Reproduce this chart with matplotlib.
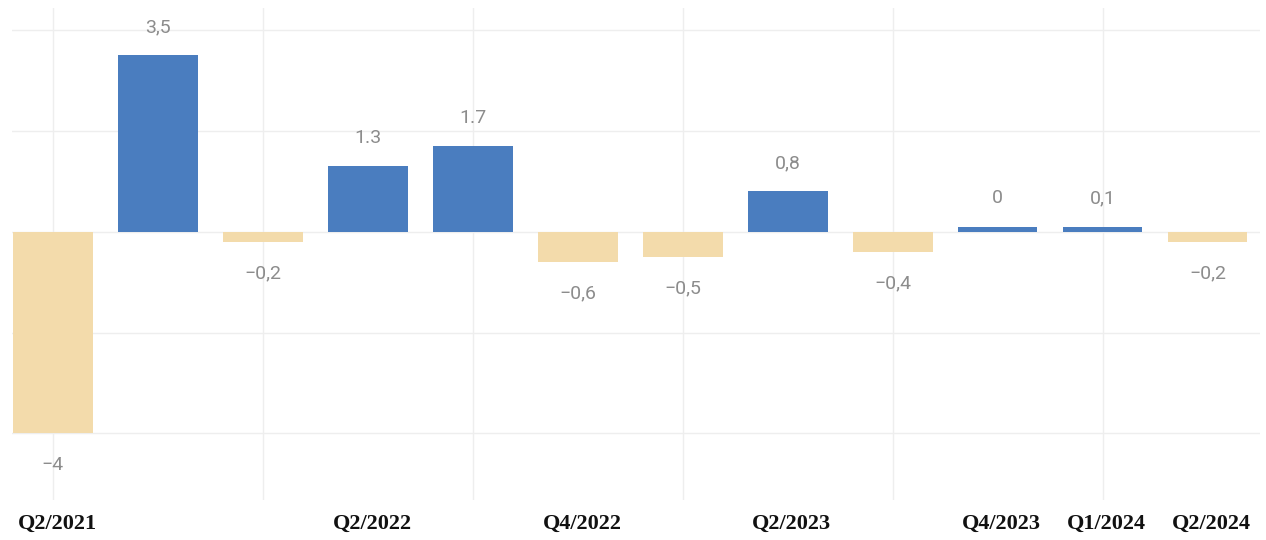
import matplotlib
matplotlib.use("Agg")
import matplotlib.pyplot as plt
from matplotlib import font_manager

# 12 quarters, one bar each
quarters = ["Q2/2021", "Q3/2021", "Q4/2021", "Q2/2022", "Q3/2022", "Q4/2022",
            "Q1/2023", "Q2/2023", "Q3/2023", "Q4/2023", "Q1/2024", "Q2/2024"]
values = [-4, 3.5, -0.2, 1.3, 1.7, -0.6, -0.5, 0.8, -0.4, 0, 0.1, -0.2]
value_labels = ["\u22124", "3,5", "\u22120,2", "1.3", "1.7", "\u22120,6", "\u22120,5",
                "0,8", "\u22120,4", "0", "0,1", "\u22120,2"]
shown_ticks = ["Q2/2021", "", "", "Q2/2022", "", "Q4/2022", "", "Q2/2023", "",
               "Q4/2023", "Q1/2024", "Q2/2024"]

BLUE = "#4a7dbf"
BEIGE = "#f3dbab"

avail = {f.name for f in font_manager.fontManager.ttflist}
label_font = "Liberation Sans Narrow" if "Liberation Sans Narrow" in avail else "Roboto"

fig = plt.figure(figsize=(12.66, 5.4), dpi=100)
ax = fig.add_axes([12 / 1266, 40 / 540, (1260 - 12) / 1266, 492 / 540])

x = list(range(len(values)))
# zero-valued quarters are drawn as a thin stub, as in the reference
heights = [v if v != 0 else 0.1 for v in values]
colors = [BLUE if v >= 0 else BEIGE for v in values]
ax.bar(x, heights, width=0.76, color=colors, zorder=3)

ax.set_xlim(-0.39, 11.5)
ax.set_ylim(-5.32, 4.44)

ax.set_yticks([-4, -2, 0, 2, 4])
ax.set_xticks([0, 2, 4, 6, 8, 10], minor=False)
ax.grid(True, color="#eeeeee", linewidth=1.0, zorder=0)
ax.tick_params(left=False, labelleft=False, bottom=False, labelbottom=False)
for s in ax.spines.values():
    s.set_visible(False)

for xi, h, lab in zip(x, heights, value_labels):
    if h >= 0:
        ax.annotate(lab, (xi, h), xytext=(0, 14), textcoords="offset points",
                    ha="center", va="bottom", fontsize=14, color="#8c8c8c",
                    family=label_font)
    else:
        ax.annotate(lab, (xi, h), xytext=(0, -16), textcoords="offset points",
                    ha="center", va="top", fontsize=14, color="#8c8c8c",
                    family=label_font)

for xi, t in zip(x, shown_ticks):
    if t:
        ax.annotate(t, (xi, 0), xycoords=("data", "axes fraction"),
                    xytext=(3, -17), textcoords="offset points",
                    ha="center", va="center", fontsize=16, fontweight="bold",
                    family="Liberation Serif", color="#111111", annotation_clip=False)

fig.savefig("out.png", dpi=100)
